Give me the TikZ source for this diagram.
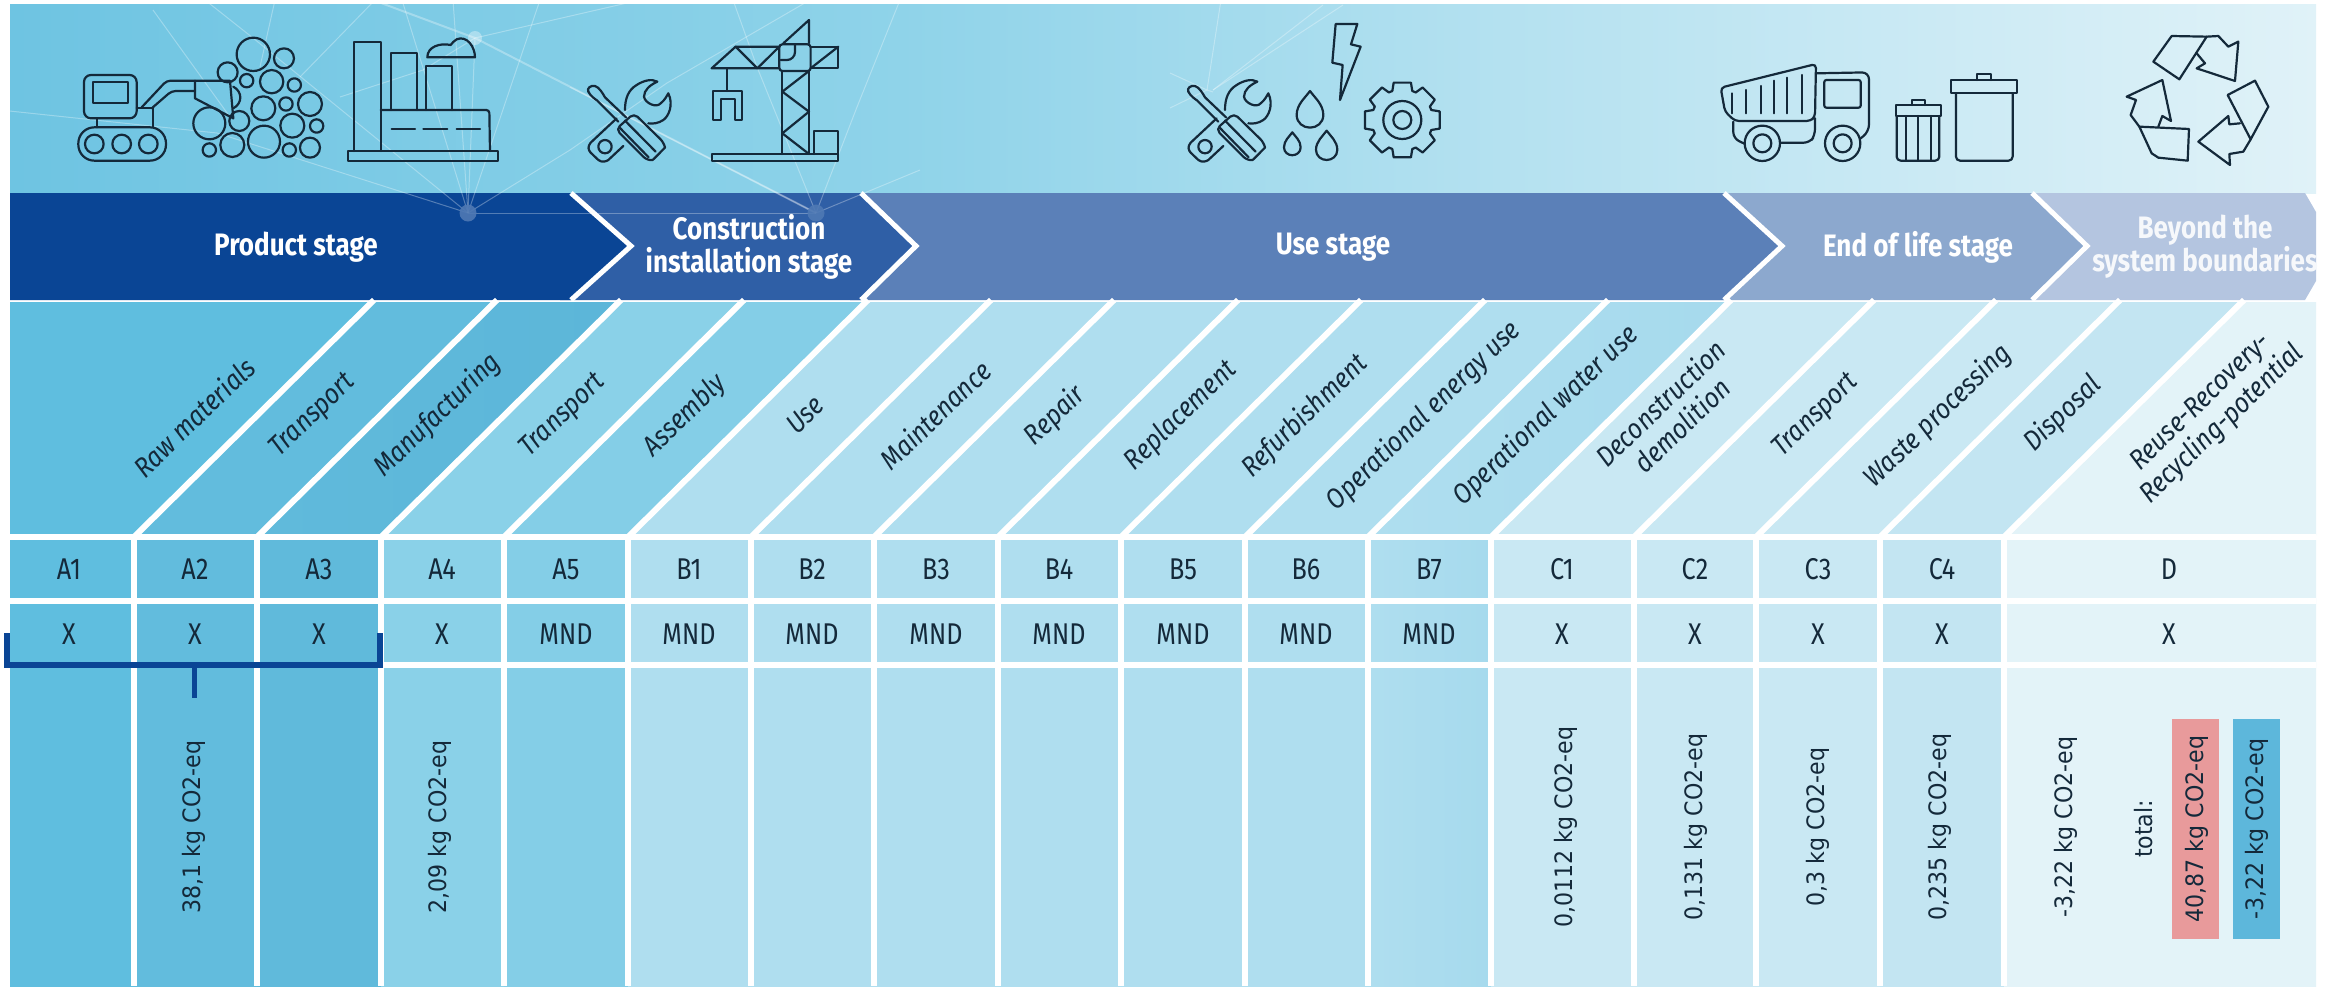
\documentclass[tikz,border=0pt]{standalone}
\usepackage{fontspec}
\setmainfont{DejaVu Sans}
\newfontfamily\hfont[FakeStretch=0.84]{Fira Sans}
\newfontfamily\ifont[FakeStretch=0.88]{Fira Sans}
\newfontfamily\vfont[FakeStretch=0.92]{DejaVu Sans}
\definecolor{bgA}{HTML}{6EC4E2}\definecolor{bgB}{HTML}{8FD3E9}\definecolor{bgC}{HTML}{B4E1F0}\definecolor{bgD}{HTML}{E0F2F8}
\definecolor{arA}{HTML}{0A4595}\definecolor{arB}{HTML}{2F5FA6}\definecolor{arC}{HTML}{5B80B8}\definecolor{arD}{HTML}{8CA8CE}\definecolor{arE}{HTML}{B4C5E0}
\definecolor{cA}{HTML}{5FBEDF}\definecolor{cB}{HTML}{62BCDD}\definecolor{cC}{HTML}{60BADB}\definecolor{cCc}{HTML}{5CB6D9}
\definecolor{cD}{HTML}{8AD1E8}\definecolor{cE}{HTML}{84CEE7}\definecolor{cF}{HTML}{AFDEEF}\definecolor{cFf}{HTML}{A6DAED}
\definecolor{cG}{HTML}{C9E8F3}\definecolor{cH}{HTML}{C3E5F2}\definecolor{cI}{HTML}{E3F3F8}
\definecolor{ink}{HTML}{14293A}\definecolor{redbox}{HTML}{E89A9B}\definecolor{bluebox}{HTML}{5DB7DB}\definecolor{dotc}{HTML}{4F79B4}
\tikzset{
 ic/.style={draw=ink,line width=2.2pt,line join=round,line cap=round},
 zoomed/.style={x=0.3333pt,y=-0.3333pt},
 stagetxt/.style={font=\hfont\bfseries\fontsize{31}{33}\selectfont,text=white,align=center},
 headtxt/.style={font=\ifont\itshape\fontsize{28}{31}\selectfont,text=ink,rotate=44,align=center},
 celltxt/.style={font=\hfont\fontsize{30}{34}\selectfont,text=ink},
 valtxt/.style={font=\vfont\fontsize{24}{28}\selectfont,text=ink,rotate=90},
 mesh/.style={draw=white,opacity=0.3,line width=1pt},
 chev/.style={draw=white,line width=5pt,line join=miter}
}
\newcommand{\toolsicon}{%
 % wrench
 \draw[ic] (165,300) .. controls (165,265) and (175,240) .. (200,225) .. controls (220,212) and (245,205) .. (262,215) .. controls (240,225) and (222,240) .. (222,260) .. controls (225,280) and (260,295) .. (272,280) .. controls (285,270) and (290,258) .. (295,250) .. controls (312,285) and (295,320) .. (280,330) .. controls (265,340) and (250,342) .. (235,340);
 \draw[ic] (140,325) -- (62,398) .. controls (52,410) and (55,420) .. (62,428) -- (85,450) .. controls (95,458) and (108,455) .. (115,450) -- (160,408);
 \draw[ic] (105,410) circle[radius=20];
 % screwdriver
 \draw[ic] (55,245) .. controls (50,235) and (62,225) .. (75,228) .. controls (88,232) and (98,250) .. (105,262) -- (168,322);
 \draw[ic] (55,245) .. controls (62,258) and (72,265) .. (82,272) -- (145,335);
 % handle
 \draw[ic,rounded corners=5pt] (138,358) -- (192,310) -- (282,398) .. controls (285,412) and (250,450) .. (232,452) -- cycle;
 \draw[ic] (165,332) -- (257,425);
 \draw[ic] (148,352) -- (236,442);
}
\newcommand{\dropicon}[3]{\draw[ic] (#1,#2) .. controls (#1+0.35*#3,#2+0.5*#3) and (#1+#3,#2+1.0*#3) .. (#1+#3,#2+1.8*#3) .. controls (#1+#3,#2+2.4*#3) and (#1+0.5*#3,#2+2.75*#3) .. (#1,#2+2.75*#3) .. controls (#1-0.5*#3,#2+2.75*#3) and (#1-#3,#2+2.4*#3) .. (#1-#3,#2+1.8*#3) .. controls (#1-#3,#2+1.0*#3) and (#1-0.35*#3,#2+0.5*#3) .. (#1,#2) -- cycle;}
\begin{document}
\begin{tikzpicture}[x=1pt,y=-1pt]
\useasboundingbox (0,0) rectangle (2338,986);
\fill[white] (0,0) rectangle (2338,986);
% top band
\shade[left color=bgA,right color=bgB] (10,4) rectangle (900.5,193);
\shade[left color=bgB,right color=bgC] (900,4) rectangle (1500.5,193);
\shade[left color=bgC,right color=bgD] (1500,4) rectangle (2316,193);
% stage arrows
\fill[arE] (2000,193) -- (2305,193) -- (2316,212) -- (2316,281) -- (2305,300) -- (2000,300) -- cycle;
\fill[arD] (1700,193) -- (2032,193) -- (2087,246) -- (2032,300) -- (1700,300) -- cycle;
\fill[arC] (850,193) -- (1724,193) -- (1782,246) -- (1724,300) -- (850,300) -- cycle;
\fill[arB] (560,193) -- (861,193) -- (916,246) -- (861,300) -- (560,300) -- cycle;
\fill[arA] (10,193) -- (571,193) -- (631,246) -- (571,300) -- (10,300) -- cycle;
\draw[chev] (571,193) -- (631,246) -- (571,300);
\draw[chev] (861,193) -- (916,246) -- (861,300);
\draw[chev] (1724,193) -- (1782,246) -- (1724,300);
\draw[chev] (2032,193) -- (2087,246) -- (2032,300);
% mesh
\begin{scope}
\clip (10,4) rectangle (2316,300);
\coordinate (pa) at (468,213);\coordinate (pb) at (816,213);\coordinate (pc) at (475,38);
\draw[mesh] (pa) -- (217,133) -- (0,110);
\draw[mesh] (pa) -- (253,38) -- (205,0);
\draw[mesh] (pa) -- (pc); \draw[mesh] (pa) -- (pb);
\draw[mesh] (pa) -- (402,0); \draw[mesh] (pa) -- (453,0); \draw[mesh] (pa) -- (540,0);
\draw[mesh] (pa) -- (570,150) -- (667,83) -- (810,0);
\draw[mesh] (153,10) -- (230,117); \draw[mesh] (275,0) -- (260,67); \draw[mesh] (375,0) -- (300,77);
\draw[mesh] (340,97) -- (423,70) -- (pc);
\draw[mesh,line width=2pt] (373,0) -- (pc) -- (pb);
\draw[mesh] (pc) -- (640,0);
\draw[mesh] (pb) -- (757,67) -- (733,0); \draw[mesh] (pb) -- (570,87);
\draw[mesh] (pb) -- (857,107) -- (900,0); \draw[mesh] (pb) -- (920,170);
\draw[mesh] (1170,73) -- (1207,90) -- (1170,108);
\draw[mesh] (1221,0) -- (1207,90) -- (1213,92);
\draw[mesh] (1213,90) -- (1343,5); \draw[mesh] (1213,90) -- (1323,5);
\fill[dotc,opacity=.9] (pa) circle[radius=8.5]; \fill[dotc,opacity=.9] (pb) circle[radius=8.5];
\fill[white,opacity=.35] (pc) circle[radius=7];
\end{scope}
% stage labels
\node[stagetxt] (s1) at (296,247) {Product stage};
\node[stagetxt] (s2) at (749,247) {Construction\\installation stage};
\node[stagetxt] (s3) at (1333,247) {Use stage};
\node[stagetxt] (s4) at (1918,247) {End of life stage};
\node[stagetxt,text=white!88!arE] (s5) at (2205,247) {Beyond the\\system boundaries};
% columns
\foreach \l/\r/\ca/\cb in {10/134/cA/cA,134/257/cB/cB,257/381/cC/cC,381/504/cD/cD,504/628/cE/cE,628/751/cF/cF,751/874/cF/cF,874/998/cF/cF,998/1121/cF/cF,1121/1245/cF/cF,1245/1368/cF/cF,1368/1491/cF/cFf,1491/1634/cG/cG,1634/1756/cG/cG,1756/1880/cG/cG,1880/2004/cH/cH,2004/2316/cI/cI}{
 \shade[left color=\ca,right color=\cb] (\l,540) rectangle (\r,986);
}
\fill[cA] (10,302) -- (372,302) -- (134,535) -- (10,535) -- cycle;
\foreach \l/\r/\ca/\cb in {134/257/cB/cB,257/381/cC/cCc,381/504/cD/cD,504/628/cE/cE,628/751/cF/cF,751/874/cF/cF,874/998/cF/cF,998/1121/cF/cF,1121/1245/cF/cF,1245/1368/cF/cF,1368/1491/cF/cFf,1491/1634/cG/cG,1634/1756/cG/cG,1756/1880/cG/cG,1880/2004/cH/cH}{
 \shade[left color=\ca,right color=\cb] (\l,535) -- (\l+238,302) -- (\r+238,302) -- (\r,535) -- cycle;
}
\fill[cI] (2004,535) -- (2242,302) -- (2316,302) -- (2316,535) -- cycle;
\foreach \b in {134,257,381,504,628,751,874,998,1121,1245,1368,1491,1634,1756,1880,2004}{
 \draw[white,line width=6pt] (\b,540) -- (\b,986);
 \draw[white,line width=6pt] (\b,537) -- (\b+240,300);
}
\foreach \yy in {537,601,665}{\draw[white,line width=6pt] (10,\yy) -- (2316,\yy);}
% header labels
\node[headtxt] (h1) at (194,417) {Raw materials};
\node[headtxt] (h2) at (313,416) {Transport};
\node[headtxt] (h3) at (438,415) {Manufacturing};
\node[headtxt] (h4) at (563,416) {Transport};
\node[headtxt] (h5) at (685,416) {Assembly};
\node[headtxt] (h6) at (805,415) {Use};
\node[headtxt] (h7) at (935,415) {Maintenance};
\node[headtxt] (h8) at (1055,416) {Repair};
\node[headtxt] (h9) at (1181,416) {Replacement};
\node[headtxt] (h10) at (1305,416) {Refurbishment};
\node[headtxt] (h11) at (1424,416) {Operational energy use};
\node[headtxt] (h12) at (1546,416) {Operational water use};
\node[headtxt] (h13) at (1671,414) {Deconstruction\\demolition};
\node[headtxt] (h14) at (1816,416) {Transport};
\node[headtxt] (h15) at (1938,416) {Waste processing};
\node[headtxt] (h16) at (2063,414) {Disposal};
\node[headtxt] (h17) at (2212,414) {Reuse-Recovery-\\Recycling-potential};
% rows
\foreach \n/\x/\a/\b in {a/69/A1/X,b/195/A2/X,c/319/A3/X,d/442/A4/X,e/566/A5/MND,f/689/B1/MND,g/812/B2/MND,h/936/B3/MND,i/1059/B4/MND,j/1183/B5/MND,k/1306/B6/MND,l/1429/B7/MND,m/1562/C1/X,n/1695/C2/X,o/1818/C3/X,p/1942/C4/X,q/2169/D/X}{
 \node[celltxt] (r1\n) at (\x,569) {\a};
 \node[celltxt] (r2\n) at (\x,634) {\b};
}
% bracket
\draw[arA,line width=6pt,line cap=butt] (7,633) -- (7,665) -- (380,665) -- (380,633);
\draw[arA,line width=5pt] (194,665) -- (194,698);
% values
\node[valtxt] (v1) at (194,827) {38,1 kg CO2-eq};
\node[valtxt] (v2) at (440,827) {2,09 kg CO2-eq};
\node[valtxt] (v3) at (1566,827) {0,0112 kg CO2-eq};
\node[valtxt] (v4) at (1696,827) {0,131 kg CO2-eq};
\node[valtxt] (v5) at (1818,827) {0,3 kg CO2-eq};
\node[valtxt] (v6) at (1940,827) {0,235 kg CO2-eq};
\node[valtxt] (v7) at (2066,827) {-3,22 kg CO2-eq};
\node[valtxt] (v8) at (2144,829) {total:};
\fill[redbox] (2172,719) rectangle (2219,939);
\fill[bluebox] (2233,719) rectangle (2280,939);
\node[valtxt] (v9) at (2197,829) {40,87 kg CO2-eq};
\node[valtxt] (v10) at (2257,829) {-3,22 kg CO2-eq};
% --- icons ---
% excavator and logs
\begin{scope}[shift={(60,10)},zoomed]
\draw[ic,rounded corners=7pt] (72,195) rectangle (230,325);
\draw[ic] (98,217) rectangle (205,280);
\draw[ic,rounded corners=16pt] (55,352) rectangle (318,452);
\foreach \x in {103,185,265}{\draw[ic] (\x,402) circle[radius=28];}
\draw[ic] (110,325) -- (110,352); \draw[ic] (278,295) -- (278,352); \draw[ic] (230,295) -- (278,295);
\draw[ic,rounded corners=4pt] (245,292) -- (320,212) -- (405,212); \draw[ic,rounded corners=4pt] (275,295) -- (335,243) -- (405,243);
\draw[ic] (405,212) -- (510,212) -- (520,325) -- (405,265) -- cycle;
\draw[ic] (520,230) .. controls (548,245) and (548,280) .. (520,295);
\foreach \x/\y/\r in {580/133/50,672/145/30,503/187/30,560/212/20,635/215/35,703/225/20,750/282/36,678/282/20,610/295/36,448/340/48,538/333/30,697/347/36,770/348/20,612/395/48,517/405/36,448/420/20,688/420/20,750/413/30}{
 \draw[ic] (\x,\y) circle[radius=\r];
}
\end{scope}
% factory
\begin{scope}[shift={(340,20)},zoomed]
\draw[ic] (25,393) rectangle (475,422);
\draw[ic] (43,393) -- (43,65) -- (122,65) -- (122,393);
\draw[ic] (153,270) -- (153,100) -- (232,100) -- (232,270);
\draw[ic] (258,270) -- (258,138) -- (336,138) -- (336,270);
\draw[ic,rounded corners=3pt] (122,270) -- (448,270) -- (450,393);
\foreach \a/\b in {155/225,250/322,350/420}{\draw[ic] (\a,328) -- (\b,328);}
\draw[ic] (262,112) -- (405,112) .. controls (405,80) and (380,45) .. (350,58) .. controls (340,62) and (338,70) .. (332,75) .. controls (300,68) and (262,80) .. (262,112) -- cycle;
\end{scope}
% tools and crane
\begin{scope}[shift={(570,10)},zoomed]
\toolsicon
\draw[ic] (425,432) rectangle (805,452);
\draw[ic] (637,183) -- (637,432); \draw[ic] (717,183) -- (717,432);
\draw[ic] (717,183) -- (637,245) -- (717,305) -- (637,370) -- (717,432);
\draw[ic,rounded corners=3pt] (628,103) rectangle (722,183);
\draw[ic,rounded corners=8pt] (675,103) -- (675,150) -- (632,150);
\draw[ic] (640,100) -- (717,30) -- (717,100);
\draw[ic] (628,110) -- (497,110) -- (425,175) -- (628,175);
\draw[ic] (722,110) -- (805,110) -- (805,175) -- (722,175);
\draw[ic] (497,110) -- (562,175) -- (628,110);
\draw[ic] (722,175) -- (805,110);
\draw[ic] (472,175) -- (472,243);
\draw[ic] (430,243) -- (430,330) -- (452,330) -- (452,268) -- (495,268) -- (495,330) -- (516,330) -- (516,243) -- cycle;
\draw[ic] (732,432) -- (732,362) -- (805,362) -- (805,432);
\end{scope}
% use stage icons
\begin{scope}[shift={(1170,10)},zoomed]
\toolsicon
\draw[ic] (497,42) -- (562,42) -- (543,103) -- (572,110) -- (510,270) -- (518,165) -- (487,158) -- cycle;
\dropicon{420}{243}{40}
\dropicon{367}{367}{25}
\dropicon{470}{362}{32}
\foreach \a in {0,45,...,315}{
 \draw[ic] ([shift={(697,330)}]\a-19:92) -- ([shift={(697,330)}]\a-13:115) -- ([shift={(697,330)}]\a+13:115) -- ([shift={(697,330)}]\a+19:92) -- ([shift={(697,330)}]\a+26:92);
}
\draw[ic] (697,330) circle[radius=57]; \draw[ic] (697,330) circle[radius=27];
\end{scope}
% truck and bins
\begin{scope}[shift={(1700,40)},zoomed]
\draw[ic,rounded corners=4pt] (62,143) -- (348,72) -- (345,230) -- (332,243) -- (105,243) -- (75,215) -- cycle;
\foreach \x/\y in {95/160,137/150,182/138,222/122,262/113,305/105}{\draw[ic] (\x,\y) -- (\x,220);}
\draw[ic,rounded corners=7pt] (348,100) -- (507,97) -- (507,275) -- (482,295);
\draw[ic,rounded corners=2pt] (373,120) rectangle (482,203);
\draw[ic,rounded corners=6pt] (100,245) -- (100,295) -- (135,312);
\draw[ic,rounded corners=6pt] (240,308) -- (330,308) -- (345,285) -- (345,235);
\foreach \x in {187,428}{\draw[ic] (\x,310) circle[radius=53]; \draw[ic] (\x,310) circle[radius=27];}
\draw[ic] (587,195) rectangle (722,228);
\draw[ic] (635,195) -- (635,180) -- (675,180) -- (675,195);
\draw[ic,rounded corners=4pt] (590,228) -- (590,362) -- (718,362) -- (718,228);
\foreach \x in {617,655,692}{\draw[ic] (\x,228) -- (\x,362);}
\draw[ic] (752,120) rectangle (950,160);
\draw[ic] (830,120) -- (830,103) -- (872,103) -- (872,120);
\draw[ic,rounded corners=4pt] (768,160) -- (768,362) -- (938,362) -- (938,160);
\end{scope}
% recycling
\begin{scope}[shift={(2100,10)},zoomed]
\draw[ic] (160,155) -- (215,78) -- (320,80) -- (238,208) -- cycle;
\draw[ic] (320,80) -- (355,78) -- (385,110) -- (415,95) -- (405,213) -- (290,175) -- (315,160) -- (290,130);
\draw[ic] (383,255) -- (465,212) -- (505,290) -- (452,388) -- cycle;
\draw[ic] (452,388) -- (430,425) -- (388,432) -- (390,465) -- (295,395) -- (385,318) -- (388,343) -- (420,340);
\draw[ic] (118,350) -- (267,357) -- (263,452) -- (175,443) -- (155,430) -- cycle;
\draw[ic] (118,350) -- (92,315) -- (108,270) -- (80,260) -- (187,210) -- (213,333) -- (187,318) -- (175,350);
\end{scope}
\end{tikzpicture}
\end{document}
